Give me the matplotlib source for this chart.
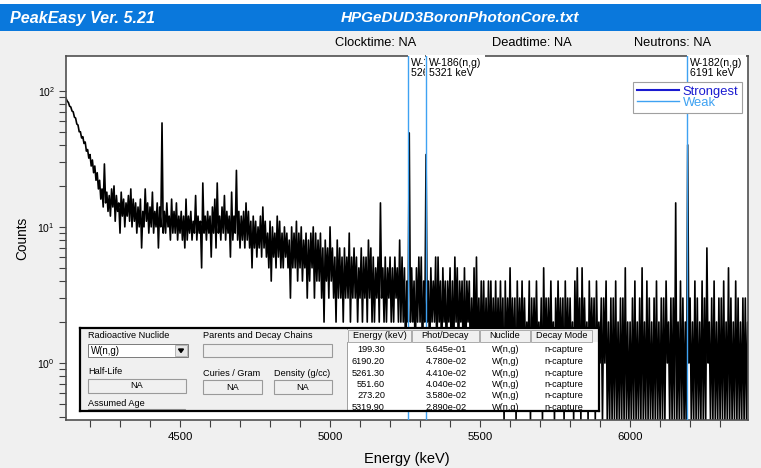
import numpy as np
import matplotlib.pyplot as plt
from matplotlib.patches import Rectangle
from matplotlib.lines import Line2D
from matplotlib.ticker import MultipleLocator, NullFormatter

plt.rcParams['font.family'] = ['Liberation Sans', 'DejaVu Sans']

start_kev = 4120
bin_kev = 8
bin_max = [
    88, 82, 76, 70, 63, 56, 50, 46, 42, 37, 34, 31, 28, 25, 22,
    19, 29, 18, 17, 19, 20, 17, 15, 18, 16, 15, 17, 19, 16, 15,
    14, 16, 13, 19, 15, 14, 18, 13, 15, 14, 58, 13, 15, 12, 16,
    13, 15, 12, 13, 12, 16, 12, 13, 11, 17, 12, 11, 21, 12, 13,
    12, 14, 16, 21, 12, 14, 17, 13, 12, 18, 12, 26, 13, 12, 13,
    15, 13, 11, 12, 11, 10, 12, 14, 11, 9, 11, 10, 9, 12, 11,
    9, 10, 9, 8, 10, 9, 11, 9, 10, 8, 9, 8, 9, 10, 9,
    8, 9, 7, 8, 7, 10, 7, 6, 8, 7, 6, 7, 6, 9, 6,
    7, 6, 5, 7, 6, 6, 8, 7, 6, 5, 6, 15, 5, 6, 5,
    6, 5, 6, 5, 8, 6, 5, 4, 49, 5, 4, 5, 6, 6, 4,
    34, 4, 5, 4, 6, 6, 4, 5, 4, 4, 5, 4, 6, 5, 4,
    4, 5, 4, 4, 3, 5, 6, 3, 4, 4, 3, 4, 4, 3, 4,
    3, 4, 3, 4, 3, 5, 3, 3, 4, 3, 4, 3, 2, 4, 3,
    3, 4, 2, 3, 5, 3, 3, 4, 2, 3, 4, 3, 3, 4, 3,
    3, 2, 4, 5, 3, 5, 3, 2, 4, 3, 3, 4, 2, 3, 3,
    4, 2, 3, 3, 4, 2, 3, 3, 5, 2, 2, 3, 4, 2, 3,
    5, 2, 4, 3, 2, 3, 4, 2, 3, 3, 4, 2, 3, 3, 15,
    2, 4, 3, 2, 40, 3, 2, 4, 3, 2, 4, 3, 7, 2, 3,
    4, 2, 3, 3, 4, 2, 5, 3, 2, 4, 3, 2, 3, 3, 2,
]
bin_min = [
    84, 77, 71, 64, 57, 50, 45, 41, 36, 32, 28, 25, 22, 19, 16,
    14, 15, 13, 12, 14, 11, 13, 9, 12, 10, 12, 11, 10, 11, 9,
    10, 7, 10, 11, 9, 10, 9, 10, 7, 10, 9, 9, 10, 8, 9,
    9, 8, 9, 8, 7, 8, 9, 8, 9, 8, 9, 5, 9, 8, 9,
    6, 9, 7, 9, 8, 9, 8, 9, 6, 8, 9, 8, 7, 8, 7,
    8, 7, 5, 7, 6, 7, 6, 7, 6, 5, 4, 6, 5, 6, 5,
    5, 6, 5, 3, 5, 5, 4, 5, 4, 5, 3, 4, 5, 3, 4,
    4, 3, 2, 4, 3, 4, 3, 2, 3, 3, 2, 3, 3, 2, 3,
    3, 2, 3, 2, 3, 2, 3, 2, 2, 3, 2, 3, 2, 2, 3,
    2, 2, 3, 2, 2, 2, 1, 2, 2, 2, 1, 2, 2, 1, 2,
    2, 1, 2, 2, 1, 2, 1, 2, 1, 2, 1, 1, 2, 1, 2,
    1, 1, 2, 1, 1, 1, 1, 1, 1, 1, 1, 1, 1, 1, 1,
    1, 1, 0, 1, 1, 1, 1, 0, 1, 1, 1, 1, 1, 0, 1,
    1, 1, 1, 0, 1, 1, 1, 1, 0, 1, 1, 1, 0, 1, 1,
    1, 0, 1, 1, 0, 1, 1, 0, 1, 1, 0, 1, 1, 0, 1,
    0, 0, 0, 0, 0, 0, 0, 0, 0, 0, 0, 0, 0, 0, 0,
    0, 0, 0, 0, 0, 0, 0, 0, 0, 0, 1, 0, 0, 0, 0,
    0, 0, 0, 0, 1, 0, 0, 0, 0, 0, 0, 0, 1, 0, 0,
    0, 0, 0, 0, 0, 0, 0, 0, 0, 0, 0, 0, 0, 0, 0,
]
bin_start = start_kev + bin_kev * np.arange(len(bin_max))

# gamma lines marked on the spectrum (all "Weak")
line_energies = [5261, 5321, 6191]
line_labels = ["W-183(n,g)\n5261 keV", "W-186(n,g)\n5321 keV", "W-182(n,g)\n6191 keV"]

# nuclide library table
tab_energy = ["199.30", "6190.20", "5261.30", "551.60", "273.20", "5319.90"]
tab_phot = ["5.645e-01", "4.780e-02", "4.410e-02", "4.040e-02", "3.580e-02", "2.890e-02"]
tab_nuclide = ["W(n,g)", "W(n,g)", "W(n,g)", "W(n,g)", "W(n,g)", "W(n,g)"]
tab_mode = ["n-capture", "n-capture", "n-capture", "n-capture", "n-capture", "n-capture"]

W, H = 761, 468
fig = plt.figure(figsize=(W / 100, H / 100), dpi=100, facecolor='#f0f0f0')


def px_axes(x0, y0, x1, y1, **kw):
    return fig.add_axes([x0 / W, 1 - y1 / H, (x1 - x0) / W, (y1 - y0) / H], **kw)


weak = '#3fa2f2'
strong = '#1a1ad0'
y_floor = 0.3815

## SPECTRUM
ax = px_axes(66, 56, 748, 420)
ax.set_yscale('log')
# max then min of every slice, so the trace zig-zags like the dense channel data;
# empty channels are drawn on the bottom of the log axis
xs = np.column_stack([bin_start, bin_start + bin_kev / 2]).ravel()
ys = np.column_stack([bin_max, bin_min]).ravel().astype(float)
ys[ys <= 0] = y_floor
ax.plot(xs, ys, color='black', lw=1.2, zorder=2)
ax.set_xlim(4120, 6393)
ax.set_ylim(y_floor, 180)

for e, lab in zip(line_energies, line_labels):
    ax.axvline(e, color=weak, lw=1.0, zorder=4)
    ann = ax.annotate(lab, xy=(e, 1), xycoords=('data', 'axes fraction'),
                      xytext=(3, -2), textcoords='offset pixels', ha='left', va='top',
                      fontsize=7.6, linespacing=1.0, zorder=3,
                      bbox=dict(fc='white', ec='none', pad=2.2))
    if e == line_energies[0]:
        # the next label sits on top of this one
        ann.set_clip_path(Rectangle((4120, 0.01), line_energies[1] - 5 - 4120, 1e4,
                                    transform=ax.transData))
        ann.set_clip_on(True)

handles = [Line2D([], [], color=strong, lw=1.5), Line2D([], [], color=weak, lw=1.0)]
leg = ax.legend(handles, ['Strongest', 'Weak'], loc='upper right',
                bbox_to_anchor=((742 - 66) / 682, (420 - 82) / 364), borderaxespad=0,
                fontsize=9.4, labelcolor='linecolor', fancybox=False, framealpha=1,
                edgecolor='#a0a0a0', handlelength=3.2, handletextpad=0.3,
                labelspacing=-0.12, borderpad=0.3)
leg.set_zorder(6)
leg.get_frame().set_linewidth(0.8)

ax.xaxis.set_major_locator(MultipleLocator(500))
ax.xaxis.set_minor_locator(MultipleLocator(100))
ax.yaxis.set_minor_formatter(NullFormatter())
ax.tick_params(axis='x', which='both', direction='out', length=5, width=0.8,
               color='#404040', labelsize=8.2, pad=4)
ax.tick_params(axis='y', which='both', direction='out', length=5, width=0.8,
               color='#404040', labelsize=7.5, pad=3)
ax.set_xlabel('Energy (keV)', fontsize=10.5, labelpad=7)
ax.set_ylabel('Counts', fontsize=9.8, labelpad=6)
for sp in ax.spines.values():
    sp.set_color('#505050')
    sp.set_linewidth(1.2)

## WINDOW CHROME
ui = px_axes(0, 0, W, H, zorder=8)
ui.set_xlim(0, W)
ui.set_ylim(H, 0)
ui.axis('off')
ui.add_patch(Rectangle((0, 0), W, 4, fc='white', ec='none'))
ui.add_patch(Rectangle((0, 4), W, 27, fc='#0a78dc', ec='none'))
ui.text(10, 18, 'PeakEasy Ver. 5.21', color='white', fontsize=11.6,
        fontweight='bold', style='italic', va='center')
ui.text(460, 18, 'HPGeDUD3BoronPhotonCore.txt', color='white', fontsize=11,
        fontweight='bold', style='italic', va='center', ha='center')
for x, s in [(335, 'Clocktime: NA'), (492, 'Deadtime: NA'), (634, 'Neutrons: NA')]:
    ui.text(x, 43, s, fontsize=9.3, va='center')

## NUCLIDE PANEL
pan = px_axes(80, 328, 599, 411, zorder=9)
pan.set_xlim(80, 599)
pan.set_ylim(411, 328)
pan.set_facecolor('#f0f0f0')
pan.set_xticks([])
pan.set_yticks([])
for sp in pan.spines.values():
    sp.set_color('black')
    sp.set_linewidth(1.6)

fs = 6.6
# left side form
for x, y, s in [(88, 336, 'Radioactive Nuclide'), (203, 336, 'Parents and Decay Chains'),
                (88, 372, 'Half-Life'), (203, 373, 'Curies / Gram'),
                (274, 373, 'Density (g/cc)'), (88, 403, 'Assumed Age')]:
    pan.text(x, y, s, fontsize=fs, va='center', clip_on=True)

pan.add_patch(Rectangle((88, 344), 100, 13, fc='white', ec='#7a7a7a', lw=0.7))
pan.text(91, 350.5, 'W(n,g)', fontsize=fs + 0.3, va='center')
pan.add_patch(Rectangle((175, 345), 12, 11, fc='#e6e6e6', ec='#a0a0a0', lw=0.5))
pan.fill([178.5, 183.5, 181], [349, 349, 352.5], color='black')
pan.add_patch(Rectangle((203, 344), 129, 13, fc='#f0f0f0', ec='#9a9a9a', lw=0.8))

for x0, w, cx, cy in [(88, 98, 137, 386), (203, 59, 232.5, 387), (274, 58, 303, 387)]:
    pan.add_patch(Rectangle((x0, cy - 7), w, 14, fc='#f0f0f0', ec='#9a9a9a', lw=0.8))
    pan.text(cx, cy, 'NA', fontsize=fs, ha='center', va='center')
pan.add_patch(Rectangle((88, 409), 97, 8, fc='#f0f0f0', ec='#9a9a9a', lw=0.8))

# right side table
pan.add_patch(Rectangle((346.5, 328), 253, 83, fc='white', ec='#a0a0a0', lw=0.7))
pan.add_patch(Rectangle((347, 330), 251, 12, fc='#f0f0f0', ec='none'))
for x0, x1, s in [(348, 411, 'Energy (keV)'), (412, 479, 'Phot/Decay'),
                  (480, 530, 'Nuclide'), (531, 592, 'Decay Mode')]:
    pan.add_patch(Rectangle((x0, 330), x1 - x0, 12, fc='#f0f0f0', ec='#a0a0a0', lw=0.6))
    pan.text((x0 + x1) / 2, 336, s, fontsize=fs, ha='center', va='center')

row_y = [350, 361.5, 373, 384.5, 396, 407.5]
for y, e, p, n, m in zip(row_y, tab_energy, tab_phot, tab_nuclide, tab_mode):
    pan.text(385, y, e, fontsize=fs, ha='right', va='center', clip_on=True)
    pan.text(446, y, p, fontsize=fs, ha='center', va='center', clip_on=True)
    pan.text(505.5, y, n, fontsize=fs, ha='center', va='center', clip_on=True)
    pan.text(564, y, m, fontsize=fs, ha='center', va='center', clip_on=True)

fig.savefig('out.png', dpi=100, facecolor=fig.get_facecolor())
